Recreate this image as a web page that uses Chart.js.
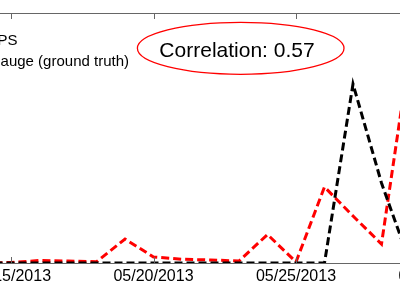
<!DOCTYPE html>
<html>
<head>
<meta charset="utf-8">
<script src="https://cdn.jsdelivr.net/npm/chart.js@4/dist/chart.umd.min.js"></script>
<style>
    html, body { margin: 0; padding: 0; width: 400px; height: 284px; overflow: hidden; background: #ffffff; }
    #wrap { position: relative; width: 400px; height: 284px; overflow: hidden; }
    #rainChart { position: absolute; left: -60px; top: 0; }
</style>
</head>
<body>
<div id="wrap">
    <canvas id="rainChart" width="580" height="284"></canvas>
</div>
<script>
// Daily values (arbitrary units, axis 0..100)
const dates = [
    '05/14/2013', '05/15/2013', '05/16/2013', '05/17/2013', '05/18/2013',
    '05/19/2013', '05/20/2013', '05/21/2013', '05/22/2013', '05/23/2013',
    '05/24/2013', '05/25/2013', '05/26/2013', '05/27/2013', '05/28/2013',
    '05/29/2013', '05/30/2013'
];
const tickLabels = ['05/15/2013', '05/20/2013', '05/25/2013', '05/30/2013'];
const gpsValues = [0, 0.2, 1.0, 0.8, 0.5, 9.6, 2.4, 1.5, 1.2, 0.8, 11.4, 0.4, 30.4, 18.8, 7.6, 85, null];
const gaugeValues = [0, 0, 0, 0, 0, 0, 0, 0, 0, 0, 0, 0, 0, 71.6, 32, 0, null];
const seriesNames = ['GPS', 'gauge (ground truth)'];
const annotationText = 'Correlation: 0.57';

const FONT = '"Liberation Sans", Arial, sans-serif';
const AXIS_COLOR = '#666666';

// frame top line, inward ticks, legend text and the correlation ellipse
const framePlugin = {
    id: 'frame',
    afterDraw(chart) {
        const ctx = chart.ctx;
        const area = chart.chartArea;
        const x = chart.scales.x;
        const offX = 60; // canvas is shifted left by this much

        ctx.save();
        ctx.strokeStyle = AXIS_COLOR;
        ctx.lineWidth = 1;
        ctx.beginPath();
        ctx.moveTo(area.left, area.top + 0.5);
        ctx.lineTo(area.right, area.top + 0.5);
        x.ticks.forEach((t, i) => {
            const px = Math.round(x.getPixelForTick(i)) + 0.5;
            ctx.moveTo(px, area.top);
            ctx.lineTo(px, area.top + 6);
            ctx.moveTo(px, area.bottom);
            ctx.lineTo(px, area.bottom - 6);
        });
        ctx.stroke();

        // legend (its left part falls outside the crop)
        ctx.fillStyle = '#000000';
        ctx.font = '15px ' + FONT;
        ctx.textAlign = 'right';
        ctx.textBaseline = 'alphabetic';
        ctx.fillText(seriesNames[0], offX + 17.5, 44.5);
        ctx.fillText(seriesNames[1], offX + 129, 65.5);

        // correlation annotation
        ctx.strokeStyle = '#ff0000';
        ctx.lineWidth = 1.3;
        ctx.beginPath();
        ctx.ellipse(offX + 240.7, 48.3, 103.3, 26, 0, 0, Math.PI * 2);
        ctx.stroke();
        ctx.font = '21px ' + FONT;
        ctx.textAlign = 'center';
        ctx.fillText(annotationText, offX + 237, 56.7);
        ctx.restore();
    }
};

function initRainChart() {
    const ctx = document.getElementById('rainChart');
    if (!ctx) return null;

    return new Chart(ctx, {
        type: 'line',
        data: {
            labels: dates,
            datasets: [
                {
                    label: seriesNames[0],
                    data: gpsValues,
                    borderColor: '#ff0000',
                    borderWidth: 3,
                    borderDash: [8, 4],
                    pointRadius: 0,
                    tension: 0,
                    order: 1
                },
                {
                    label: seriesNames[1],
                    data: gaugeValues,
                    borderColor: '#000000',
                    borderWidth: 3,
                    borderDash: [8, 4],
                    pointRadius: 0,
                    tension: 0,
                    order: 0
                }
            ]
        },
        options: {
            responsive: false,
            animation: false,
            devicePixelRatio: 1,
            layout: {
                padding: { left: 42.5, right: 81.5, top: 13, bottom: 0 }
            },
            plugins: {
                legend: { display: false },
                tooltip: { enabled: false }
            },
            scales: {
                x: {
                    type: 'category',
                    offset: false,
                    afterBuildTicks: function(scale) {
                        scale.ticks = scale.ticks.filter(t => tickLabels.includes(dates[t.value]));
                    },
                    afterFit: function(scale) {
                        scale.height = 21;
                    },
                    grid: {
                        drawOnChartArea: false,
                        drawTicks: false
                    },
                    border: {
                        display: true,
                        color: AXIS_COLOR,
                        width: 1
                    },
                    ticks: {
                        autoSkip: false,
                        maxRotation: 0,
                        padding: 4,
                        color: '#000000',
                        font: { family: FONT, size: 16 }
                    }
                },
                y: {
                    display: false,
                    min: 0,
                    max: 100
                }
            }
        },
        plugins: [framePlugin]
    });
}

initRainChart();
</script>
</body>
</html>
